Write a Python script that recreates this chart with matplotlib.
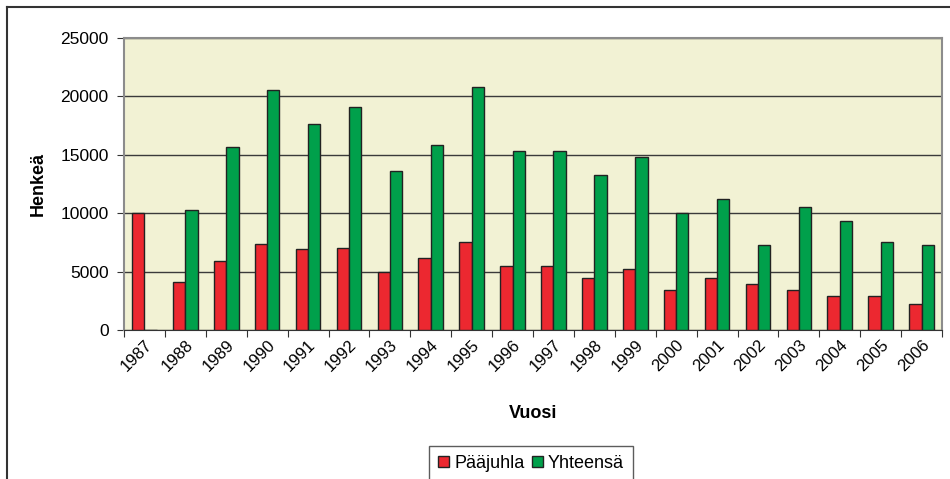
import numpy as np
import matplotlib.pyplot as plt
from matplotlib.lines import Line2D

plt.rcParams["font.family"] = ["Liberation Sans", "DejaVu Sans"]

years = [str(y) for y in range(1987, 2007)]
paajuhla = [10000, 4100, 5950, 7400, 6950, 7050, 4950, 6200, 7550, 5450,
            5450, 4450, 5200, 3450, 4450, 3950, 3450, 2950, 2950, 2200]
yhteensa = [0, 10300, 15700, 20550, 17600, 19050, 13600, 15850, 20800, 15350,
            15350, 13250, 14850, 10000, 11250, 7300, 10500, 9300, 7550, 7300]

red = "#ec2830"
green = "#00a04b"
bg = "#f2f2d4"

fig = plt.figure(figsize=(9.5, 4.79), dpi=100)
ax = fig.add_axes([124/950, 1-330/479, (942-124)/950, (330-38)/479])
ax.set_facecolor(bg)

x = np.arange(len(years))
w = 0.3
ax.bar(x - w/2, paajuhla, w, color=red, edgecolor="#222222", linewidth=1.0,
       label="Pääjuhla", zorder=3)
ax.bar(x + w/2, yhteensa, w, color=green, edgecolor="#222222", linewidth=1.0,
       label="Yhteensä", zorder=3)

ax.set_xlim(-0.5, len(years) - 0.5)
ax.set_ylim(0, 25000)
ax.set_yticks(np.arange(0, 25001, 5000))
ax.yaxis.grid(True, color="#3a3a3a", linewidth=1.0, zorder=1)
ax.tick_params(axis="y", labelsize=12.5, length=5, color="#333333", pad=6)

ax.set_xticks(np.arange(-0.5, len(years), 1))
ax.set_xticklabels([])
ax.tick_params(axis="x", length=5, color="#333333")
ax.set_xticks(x, minor=True)
ax.set_xticklabels(years, minor=True, rotation=45, ha="right", va="top",
                   rotation_mode="anchor", fontsize=12)
ax.tick_params(axis="x", which="minor", length=0, pad=5)

for s in ["top", "right", "left"]:
    ax.spines[s].set_color("#8c8c8c")
    ax.spines[s].set_linewidth(1.5)
ax.spines["bottom"].set_color("#333333")

ax.set_ylabel("Henkeä", fontsize=13, fontweight="bold", labelpad=10)
ax.set_xlabel("Vuosi", fontsize=13, fontweight="bold", labelpad=22)

leg = ax.legend(loc="upper center", bbox_to_anchor=(531/950, 1-446/479),
                bbox_transform=fig.transFigure, ncol=2, frameon=True,
                fontsize=13, handlelength=0.6, handleheight=0.6,
                handletextpad=0.3, columnspacing=0.4, borderpad=0.5,
                borderaxespad=0, fancybox=False)
leg.get_frame().set_edgecolor("#333333")
leg.get_frame().set_linewidth(1.0)

# outer chart frame
fig.add_artist(Line2D([7/950, 1], [1-7/479, 1-7/479], color="#333333", lw=1.5))
fig.add_artist(Line2D([7/950, 7/950], [0, 1-7/479], color="#333333", lw=1.5))

fig.savefig("out.png", dpi=100)
